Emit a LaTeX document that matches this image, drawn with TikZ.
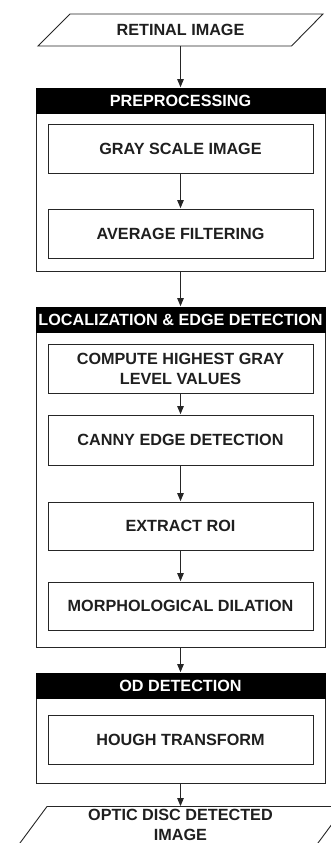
\documentclass[tikz,border=0pt]{standalone}
\usepackage{fontspec}
\setmainfont{Liberation Sans}
\usetikzlibrary{arrows.meta}
\tikzset{
  lbl/.style={font=\fontsize{16.2}{20}\selectfont\bfseries, align=center, text=black!88, inner sep=0pt},
  stepbox/.style={lbl, draw=black!85, line width=0.9pt, minimum width=265pt, minimum height=49pt},
  grpframe/.style={draw=black!85, line width=0.9pt, minimum width=289pt, inner sep=0pt},
  grphead/.style={lbl, fill=black, draw=black, line width=0.9pt, text=white, minimum width=289pt, minimum height=25pt},
  io/.style={draw=black!85, line width=0.9pt},
  flow/.style={draw=black!85, line width=0.9pt, -{Triangle[length=8pt,width=6.5pt]}, shorten >=0.4pt}
}
\begin{document}
\begin{tikzpicture}[x=1pt,y=-1pt]
\useasboundingbox (0,0) rectangle (331,843);
\clip (0,0) rectangle (331,843);
\fill[white] (0,0) rectangle (331,843);

% input parallelogram
\draw[io] (70,14) -- (323,14) -- (291.5,46) -- (38,46) -- cycle;
\node[lbl, minimum width=250pt, minimum height=32pt] (in) at (180.5,30) {RETINAL IMAGE};

% preprocessing group
\node[grpframe, minimum height=183pt] (g1) at (180.5,179.5) {};
\node[grphead] (h1) at (180.5,100.5) {PREPROCESSING};
\node[stepbox] (gray) at (180.5,148.5) {GRAY SCALE IMAGE};
\node[stepbox] (avg) at (180.5,233.5) {AVERAGE FILTERING};

% localization group
\node[grpframe, minimum height=340pt] (g2) at (180.5,477) {};
\node[grphead] (h2) at (180.5,319.5) {LOCALIZATION \& EDGE DETECTION};
\node[stepbox] (comp) at (180.5,368.5) {COMPUTE HIGHEST GRAY\\LEVEL VALUES};
\node[stepbox, minimum height=50pt] (canny) at (180.5,440) {CANNY EDGE DETECTION};
\node[stepbox, minimum height=48pt] (roi) at (180.5,526) {EXTRACT ROI};
\node[stepbox, minimum height=48pt] (morph) at (180.5,606) {MORPHOLOGICAL DILATION};

% OD detection group
\node[grpframe, minimum height=110pt] (g3) at (180.5,728) {};
\node[grphead] (h3) at (180.5,685.5) {OD DETECTION};
\node[stepbox] (hough) at (180.5,739.5) {HOUGH TRANSFORM};

% output parallelogram (cut by the page edge)
\draw[io] (47,806.5) -- (345,806.5) -- (308,856.5) -- (10,856.5) -- cycle;
\coordinate (outtop) at (180.5,806.5);
\node[lbl] (out) at (180.5,825) {OPTIC DISC DETECTED\\IMAGE};

% connectors
\draw[flow] (in.south) -- (g1.north);
\draw[flow] (gray.south) -- (avg.north);
\draw[flow] (g1.south) -- (g2.north);
\draw[flow] (comp.south) -- (canny.north);
\draw[flow] (canny.south) -- (roi.north);
\draw[flow] (roi.south) -- (morph.north);
\draw[flow] (g2.south) -- (g3.north);
\draw[flow] (g3.south) -- (outtop);
\end{tikzpicture}
\end{document}
